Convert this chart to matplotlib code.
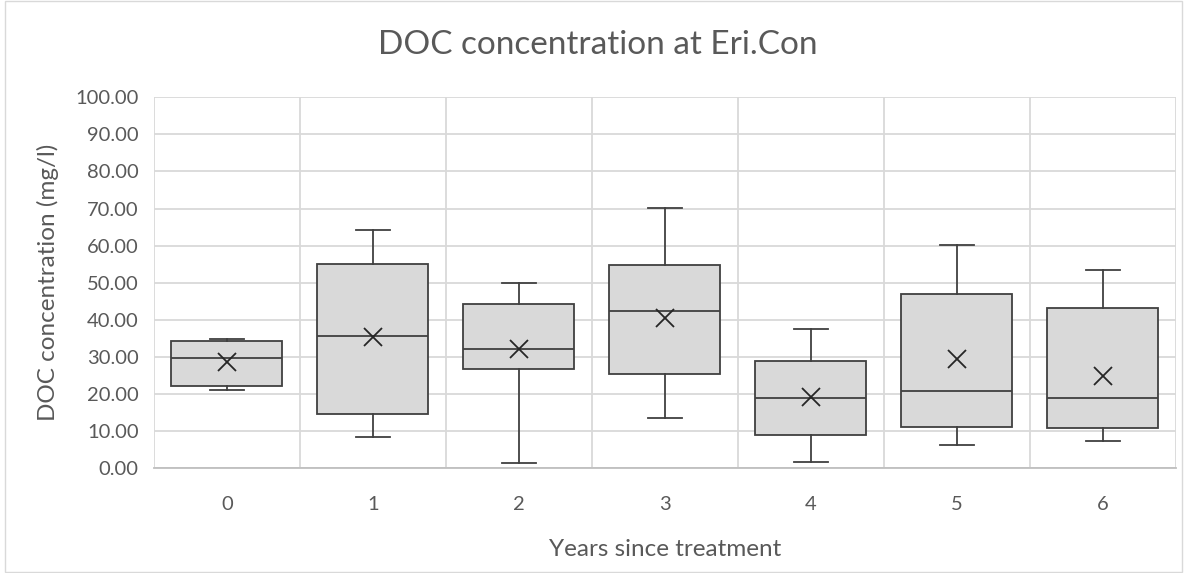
import matplotlib.pyplot as plt
from matplotlib.patches import Rectangle

plt.rcParams['font.family'] = ['Lato', 'DejaVu Sans']

years = ['0', '1', '2', '3', '4', '5', '6']
whislo = [21.1, 8.4, 1.3, 13.6, 1.8, 6.2, 7.4]
q1 = [22.3, 14.7, 26.8, 25.4, 9.0, 11.2, 10.9]
median = [29.6, 35.7, 32.2, 42.3, 19.0, 20.8, 18.9]
q3 = [34.4, 55.1, 44.2, 54.8, 29.0, 47.0, 43.1]
whishi = [34.9, 64.2, 49.9, 70.2, 37.5, 60.2, 53.4]
mean = [28.7, 35.3, 32.1, 40.4, 19.2, 29.4, 25.0]

stats = []
for i in range(len(years)):
    stats.append(dict(whislo=whislo[i], q1=q1[i], med=median[i], q3=q3[i],
                      whishi=whishi[i], mean=mean[i], fliers=[], label=years[i]))

fig = plt.figure(figsize=(11.87, 5.73), dpi=100)
ax = fig.add_axes([0.1297, 0.1827, 0.8610, 0.6475])

edge = '#404040'
ax.bxp(stats, positions=range(len(years)), widths=0.76, patch_artist=True,
       showmeans=True, showfliers=False,
       boxprops=dict(facecolor='#d9d9d9', edgecolor=edge, linewidth=1.3),
       medianprops=dict(color=edge, linewidth=1.3),
       whiskerprops=dict(color=edge, linewidth=1.3),
       capprops=dict(color=edge, linewidth=1.3),
       capwidths=0.23,
       meanprops=dict(marker='x', markeredgecolor='#262626', markersize=13,
                      markeredgewidth=1.3))

ax.set_xlim(-0.5, len(years) - 0.5)
ax.set_ylim(0, 100)
ax.set_yticks(range(0, 101, 10))
ax.set_yticklabels(['%.2f' % v for v in range(0, 101, 10)])
ax.set_xticks(range(len(years)))
ax.set_xticklabels(years)

# category separators and horizontal grid
for xv in [i - 0.5 for i in range(len(years) + 1)]:
    ax.axvline(xv, color='#d9d9d9', linewidth=1.3, zorder=0)
ax.yaxis.grid(True, color='#d9d9d9', linewidth=1.3, zorder=0)
ax.set_axisbelow(True)

for s in ['top', 'right', 'left']:
    ax.spines[s].set_visible(False)
ax.spines['bottom'].set_color('#bfbfbf')
ax.spines['bottom'].set_linewidth(1.3)
ax.tick_params(length=0, labelsize=14.5, colors='#595959')
ax.tick_params(axis='x', pad=20)
ax.tick_params(axis='y', pad=11)

fig.text(0.504, 0.921, 'DOC concentration at Eri.Con', fontsize=24, color='#595959',
         ha='center', va='center')
ax.set_xlabel('Years since treatment', fontsize=17.5, color='#595959', labelpad=19)
ax.set_ylabel('DOC concentration (mg/l)', fontsize=17.5, color='#595959', labelpad=12)

fig.patches.append(Rectangle((0.004, 0.002), 0.992, 0.996, transform=fig.transFigure,
                             fill=False, edgecolor='#d9d9d9', linewidth=1))

fig.savefig('out.png', dpi=100)
